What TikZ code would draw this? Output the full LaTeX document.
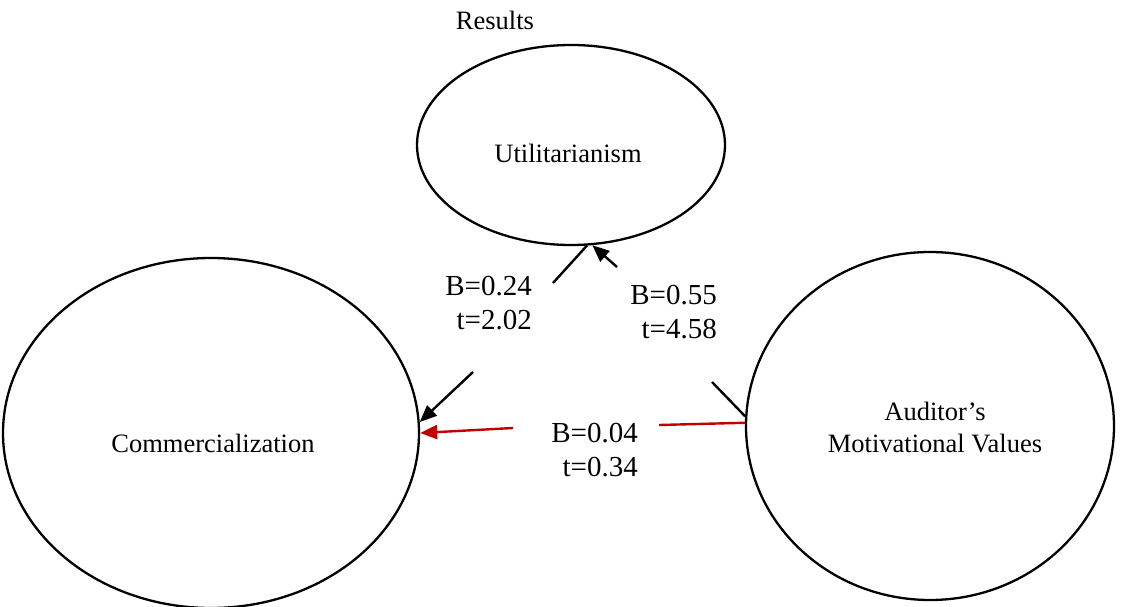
\documentclass[tikz,border=0pt]{standalone}
\usepackage{fontspec}
\setmainfont{Liberation Serif}
\usetikzlibrary{shapes.geometric,arrows.meta}
\definecolor{darkred}{RGB}{192,0,0}
\begin{document}
\begin{tikzpicture}[x=1pt,y=-1pt,
  construct/.style={draw=black,line width=2.3pt,ellipse,inner sep=0pt},
  nametext/.style={font=\fontsize{26.5}{32}\selectfont,inner sep=0pt,align=center},
  coef/.style={font=\fontsize{29}{33.5}\selectfont,inner sep=0pt,align=right,anchor=base east},
  link/.style={line width=2.4pt,draw=black},
  tip/.style={-{Triangle[length=17pt,width=14pt]}}]
\useasboundingbox (0,0) rectangle (1122,607);
% constructs
\node[construct,minimum width=308pt,minimum height=200pt] (u) at (571,145) {};
\node[construct,minimum width=416pt,minimum height=350pt] (c) at (211,433) {};
\node[construct,minimum width=368pt,minimum height=348pt] (a) at (930,426) {};
% texts
\node[nametext,anchor=base] (results) at (495,30) {Results};
\node[nametext,anchor=base] (ut) at (568,163) {Utilitarianism};
\node[nametext,anchor=base] (ct) at (213,452) {Commercialization};
\node[nametext,anchor=base] (at) at (935,452) {Auditor’s\\Motivational Values};
% coefficient labels
\node[coef] (l1) at (532,329) {B=0.24\\t=2.02};
\node[coef] (l2) at (717,338) {B=0.55\\t=4.58};
\node[coef] (l3) at (638,476) {B=0.04\\t=0.34};
% gap coordinates
\coordinate (g1a) at (553,283);
\coordinate (g1b) at (473,372);
\coordinate (g2a) at (712,382);
\coordinate (g2b) at (617,267);
\coordinate (g3a) at (659,425);
\coordinate (g3b) at (513,428);
% connectors
\draw[link] (u.279) -- (g1a);
\draw[link,tip] (g1b) -- (c.3);
\draw[link] (a.177.5) -- (g2a);
\draw[link,tip] (g2b) -- (u.282.7);
\draw[link,draw=darkred] (a.179.1) -- (g3a);
\draw[link,draw=darkred,tip] (g3b) -- (c.0.6);
\end{tikzpicture}
\end{document}
